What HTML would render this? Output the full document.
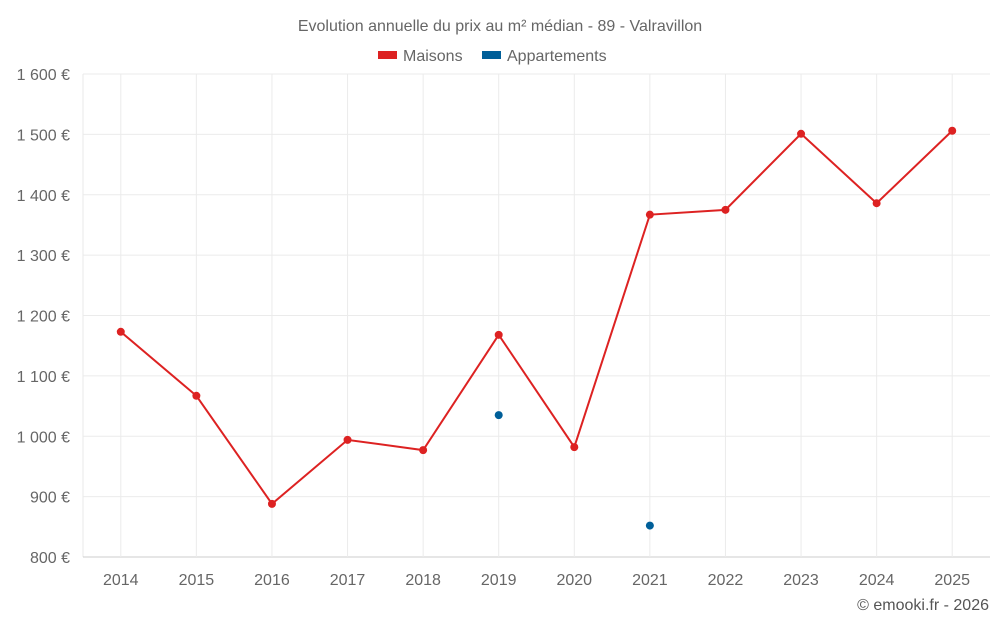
<!DOCTYPE html>
<html><head><meta charset="utf-8"><style>
body{margin:0;background:#fff;font-family:"Liberation Sans",sans-serif;}
svg text{font-family:"Liberation Sans",sans-serif;}
</style></head><body>
<svg id="chart" width="1000" height="625">
<text x="500" y="31" text-anchor="middle" font-size="16" fill="#666">Evolution annuelle du prix au m² médian - 89 - Valravillon</text>
<g>
<g><rect x="378" y="51" width="19" height="8" fill="#dd2222"/><text x="403" y="61" font-size="16" fill="#666">Maisons</text></g>
<g><rect x="482" y="51" width="19" height="8" fill="#005f99"/><text x="507" y="61" font-size="16" fill="#666">Appartements</text></g>
</g>
<g id="grid"></g><g id="axes"></g><g id="series"></g>
<text x="989" y="610" text-anchor="end" font-size="16" fill="#555">© emooki.fr - 2026</text>
</svg>
<script>
const categories=["2014","2015","2016","2017","2018","2019","2020","2021","2022","2023","2024","2025"];
const maisons=[1173,1067,888,994,977,1168,982,1367,1375,1501,1386,1506];
const appartements=[null,null,null,null,null,1035,null,852,null,null,null,null];
const yTicks=[800,900,1000,1100,1200,1300,1400,1500,1600];
const yTickLabels=["800 €","900 €","1 000 €","1 100 €","1 200 €","1 300 €","1 400 €","1 500 €","1 600 €"];
const NS="http://www.w3.org/2000/svg";
const L=83,R=990,T=74,B=557,yMin=800,yMax=1600;
const bw=(R-L)/categories.length;
const x=i=>L+bw*(i+0.5);
const y=v=>B-(v-yMin)/(yMax-yMin)*(B-T);
function mk(tag,attrs,parent){const e=document.createElementNS(NS,tag);for(const k in attrs)e.setAttribute(k,attrs[k]);parent.appendChild(e);return e;}
const grid=document.getElementById('grid'),axes=document.getElementById('axes'),series=document.getElementById('series');
const lg=mk('line',{x1:L,x2:L,y1:T,y2:B,stroke:'#e8e8e8'},grid);


yTicks.forEach((t,i)=>{
 const ln=mk('line',{x1:L,x2:R,y1:y(t),y2:y(t),stroke:i==0?'#ccc':'#ebebeb'},grid);
 
 
 const tx=mk('text',{x:70,y:y(t)+6,'text-anchor':'end','font-size':16,fill:'#666'},axes);
 tx.textContent=yTickLabels[i];
 
 
});
categories.forEach((c,i)=>{
 const ln=mk('line',{x1:x(i),x2:x(i),y1:T,y2:B,stroke:'#ebebeb'},grid);
 
 
 const tx=mk('text',{x:x(i),y:585,'text-anchor':'middle','font-size':16,fill:'#666'},axes);
 tx.textContent=c;
 
 
});
const pts=maisons.map((v,i)=>x(i)+','+y(v)).join(' ');
const pl=mk('polyline',{points:pts,fill:'none',stroke:'#dd2222','stroke-width':2},series);


maisons.forEach((v,i)=>{
 const c=mk('circle',{cx:x(i),cy:y(v),r:4,fill:'#dd2222'},series);
 
 
});
appartements.forEach((v,i)=>{
 if(v==null)return;
 const c=mk('circle',{cx:x(i),cy:y(v),r:4,fill:'#005f99'},series);
 
 
});
</script>
</body></html>
